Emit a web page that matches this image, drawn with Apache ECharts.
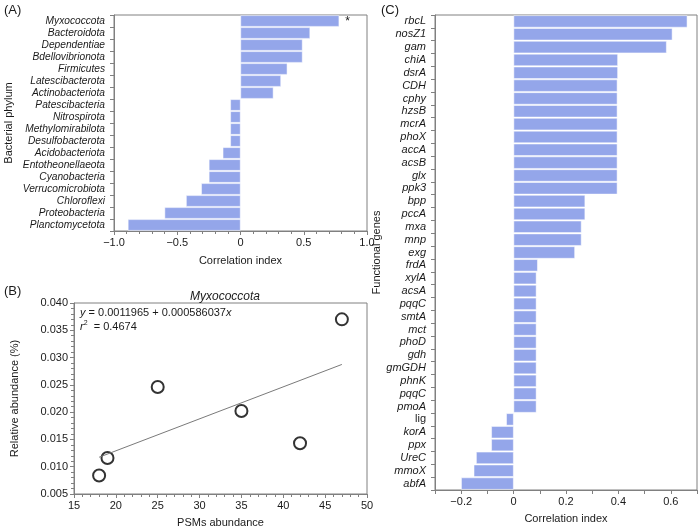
<!DOCTYPE html>
<html>
<head>
<meta charset="utf-8">
<script src="https://cdn.jsdelivr.net/npm/echarts@6/dist/echarts.min.js"></script>
<style>
  html, body { margin: 0; padding: 0; background: #fff; }
  #main { width: 700px; height: 529px; }
</style>
</head>
<body>
<div id="main"></div>
<script>
// (A) phylum correlation
var phylumNames = ['Myxococcota', 'Bacteroidota', 'Dependentiae', 'Bdellovibrionota', 'Firmicutes',
  'Latescibacterota', 'Actinobacteriota', 'Patescibacteria', 'Nitrospirota', 'Methylomirabilota',
  'Desulfobacterota', 'Acidobacteriota', 'Entotheonellaeota', 'Cyanobacteria', 'Verrucomicrobiota',
  'Chloroflexi', 'Proteobacteria', 'Planctomycetota'];
var phylumValues = [0.78, 0.55, 0.49, 0.49, 0.37, 0.32, 0.26, -0.08, -0.08, -0.08, -0.08, -0.14,
  -0.25, -0.25, -0.31, -0.43, -0.60, -0.89];
var phylumSignificant = ['Myxococcota'];

// (B) Myxococcota scatter
var psmAbundance = [18, 19, 25, 35, 42, 47];
var relAbundance = [0.0084, 0.0116, 0.0246, 0.0202, 0.0143, 0.0370];
var fitLine = [[18, 0.01174], [47, 0.02874]];

// (C) functional genes
var geneNames = ['rbcL', 'nosZ1', 'gam', 'chiA', 'dsrA', 'CDH', 'cphy', 'hzsB', 'mcrA', 'phoX',
  'accA', 'acsB', 'glx', 'ppk3', 'bpp', 'pccA', 'mxa', 'mnp', 'exg', 'frdA', 'xylA', 'acsA',
  'pqqC', 'smtA', 'mct', 'phoD', 'gdh', 'gmGDH', 'phnK', 'pqqC', 'pmoA', 'lig', 'korA', 'ppx',
  'UreC', 'mmoX', 'abfA'];
var geneValues = [0.663, 0.606, 0.584, 0.398, 0.398, 0.396, 0.396, 0.396, 0.396, 0.396, 0.396,
  0.396, 0.396, 0.396, 0.273, 0.273, 0.259, 0.259, 0.234, 0.092, 0.087, 0.087, 0.087, 0.087,
  0.087, 0.087, 0.087, 0.087, 0.087, 0.087, 0.087, -0.028, -0.085, -0.085, -0.143, -0.152, -0.2];
var plainGenes = ['lig'];

var barColor = '#94a6ea';
var lineColor = '#808080';
var textColor = '#1a1a1a';
var font = 'Liberation Sans, Arial, sans-serif';

function fmtTick(v, dec) {
  if (Math.abs(v) < 1e-9) return '0';
  var s = Math.abs(v).toFixed(dec);
  return v < 0 ? '\u2212' + s : s;
}

var myChart = echarts.init(document.getElementById('main'), null, { renderer: 'canvas' });

var phylumData = phylumValues.map(function (v, i) {
  var item = { value: v };
  if (phylumSignificant.indexOf(phylumNames[i]) >= 0) {
    item.label = { show: true, position: 'right', distance: 6, formatter: '*', fontSize: 12, color: textColor, offset: [0, 1] };
  }
  return item;
});

var scatterData = psmAbundance.map(function (x, i) { return [x, relAbundance[i]]; });

var baseAxisLine = { show: true, onZero: false, lineStyle: { color: lineColor, width: 1 } };
var baseTick = { show: true, length: 4, lineStyle: { color: lineColor } };
var baseLabel = { color: textColor, fontSize: 11, fontFamily: font };
var nameStyle = { color: textColor, fontSize: 11, fontFamily: font };

myChart.setOption({
  backgroundColor: '#ffffff',
  animation: false,
  textStyle: { fontFamily: font },
  title: [
    { text: 'Myxococcota', left: 220, top: 286, textAlign: 'center',
      textStyle: { fontSize: 12, fontStyle: 'italic', fontWeight: 'normal', color: textColor, fontFamily: font } }
  ],
  grid: [
    { left: 114, right: 333, top: 15, bottom: 298, show: true, borderColor: lineColor, borderWidth: 1 },
    { left: 74, right: 333, top: 303, bottom: 31, show: true, borderColor: lineColor, borderWidth: 1 },
    { left: 435, right: 2, top: 15, bottom: 31, show: true, borderColor: lineColor, borderWidth: 1 }
  ],
  xAxis: [
    {
      gridIndex: 0, type: 'value', min: -1, max: 1, interval: 0.5,
      name: 'Correlation index', nameLocation: 'middle', nameGap: 24, nameTextStyle: nameStyle,
      axisLine: baseAxisLine, axisTick: baseTick,
      minorTick: { show: true, splitNumber: 5, length: 3, lineStyle: { color: lineColor } },
      splitLine: { show: false },
      axisLabel: Object.assign({}, baseLabel, { margin: 6, formatter: function (v) { return fmtTick(v, 1); } })
    },
    {
      gridIndex: 1, type: 'value', min: 15, max: 50, interval: 5,
      name: 'PSMs abundance', nameLocation: 'middle', nameGap: 23, nameTextStyle: nameStyle,
      axisLine: baseAxisLine, axisTick: baseTick,
      minorTick: { show: true, splitNumber: 5, length: 3, lineStyle: { color: lineColor } },
      splitLine: { show: false },
      axisLabel: Object.assign({}, baseLabel, { margin: 6 })
    },
    {
      gridIndex: 2, type: 'value', min: -0.3, max: 0.7, interval: 0.1,
      name: 'Correlation index', nameLocation: 'middle', nameGap: 23, nameTextStyle: nameStyle,
      axisLine: baseAxisLine, axisTick: baseTick,
      splitLine: { show: false },
      axisLabel: Object.assign({}, baseLabel, {
        margin: 6,
        showMinLabel: true, showMaxLabel: true,
        formatter: function (v) {
          var r = Math.round(v * 10);
          return r % 2 === 0 ? fmtTick(v, 1) : '';
        }
      })
    }
  ],
  yAxis: [
    {
      gridIndex: 0, type: 'category', data: phylumNames, inverse: true,
      name: 'Bacterial phylum', nameLocation: 'middle', nameGap: 100, nameTextStyle: nameStyle,
      axisLine: baseAxisLine, axisTick: Object.assign({}, baseTick, { alignWithLabel: false }),
      axisLabel: Object.assign({}, baseLabel, { fontStyle: 'italic', fontSize: 10.2, margin: 9, interval: 0 })
    },
    {
      gridIndex: 1, type: 'value', min: 0.005, max: 0.04, interval: 0.005,
      name: 'Relative abundance (%)', nameLocation: 'middle', nameGap: 54, nameTextStyle: nameStyle,
      axisLine: baseAxisLine, axisTick: baseTick,
      minorTick: { show: true, splitNumber: 5, length: 3, lineStyle: { color: lineColor } },
      splitLine: { show: false },
      axisLabel: Object.assign({}, baseLabel, { margin: 6, formatter: function (v) { return v.toFixed(3); } })
    },
    {
      gridIndex: 2, type: 'category', data: geneNames, inverse: true,
      name: 'Functional genes', nameLocation: 'middle', nameGap: 52, nameTextStyle: nameStyle,
      axisLine: baseAxisLine, axisTick: baseTick,
      axisLabel: Object.assign({}, baseLabel, {
        margin: 9, interval: 0,
        formatter: function (v) { return plainGenes.indexOf(v) >= 0 ? '{n|' + v + '}' : '{i|' + v + '}'; },
        rich: {
          n: { fontStyle: 'normal', fontSize: 11, color: textColor, fontFamily: font },
          i: { fontStyle: 'italic', fontSize: 11, color: textColor, fontFamily: font }
        }
      })
    }
  ],
  graphic: [
    { type: 'text', left: 4, top: 4, style: { text: '(A)', fontSize: 13, fill: textColor, fontFamily: font } },
    { type: 'text', left: 4, top: 285, style: { text: '(B)', fontSize: 13, fill: textColor, fontFamily: font } },
    { type: 'text', left: 381, top: 4, style: { text: '(C)', fontSize: 13, fill: textColor, fontFamily: font } },
    {
      type: 'text', left: 80, top: 306,
      style: {
        text: '{i|y} = 0.0011965 + 0.000586037{i|x}\n{i|r}{s|2}  = 0.4674',
        fill: textColor, fontSize: 11, fontFamily: font, lineHeight: 14,
        rich: {
          i: { fontStyle: 'italic', fontSize: 11, fontFamily: font, fill: textColor, lineHeight: 14 },
          s: { fontSize: 7, fontFamily: font, fill: textColor, verticalAlign: 'top', lineHeight: 14, padding: [0, 0, 4, 0] }
        }
      }
    }
  ],
  series: [
    {
      type: 'bar', xAxisIndex: 0, yAxisIndex: 0, data: phylumData,
      barCategoryGap: '6%',
      itemStyle: { color: barColor, borderColor: '#ffffff', borderWidth: 0.5 }
    },
    {
      type: 'line', xAxisIndex: 1, yAxisIndex: 1, data: fitLine,
      symbol: 'none', lineStyle: { color: '#7a7a7a', width: 1 }, silent: true
    },
    {
      type: 'scatter', xAxisIndex: 1, yAxisIndex: 1, data: scatterData,
      symbol: 'circle', symbolSize: 12,
      itemStyle: { color: '#ffffff', borderColor: '#000000', borderWidth: 2 }
    },
    {
      type: 'bar', xAxisIndex: 2, yAxisIndex: 2, data: geneValues,
      barCategoryGap: '6%',
      itemStyle: { color: barColor, borderColor: '#ffffff', borderWidth: 0.5 }
    }
  ]
});
</script>
</body>
</html>
